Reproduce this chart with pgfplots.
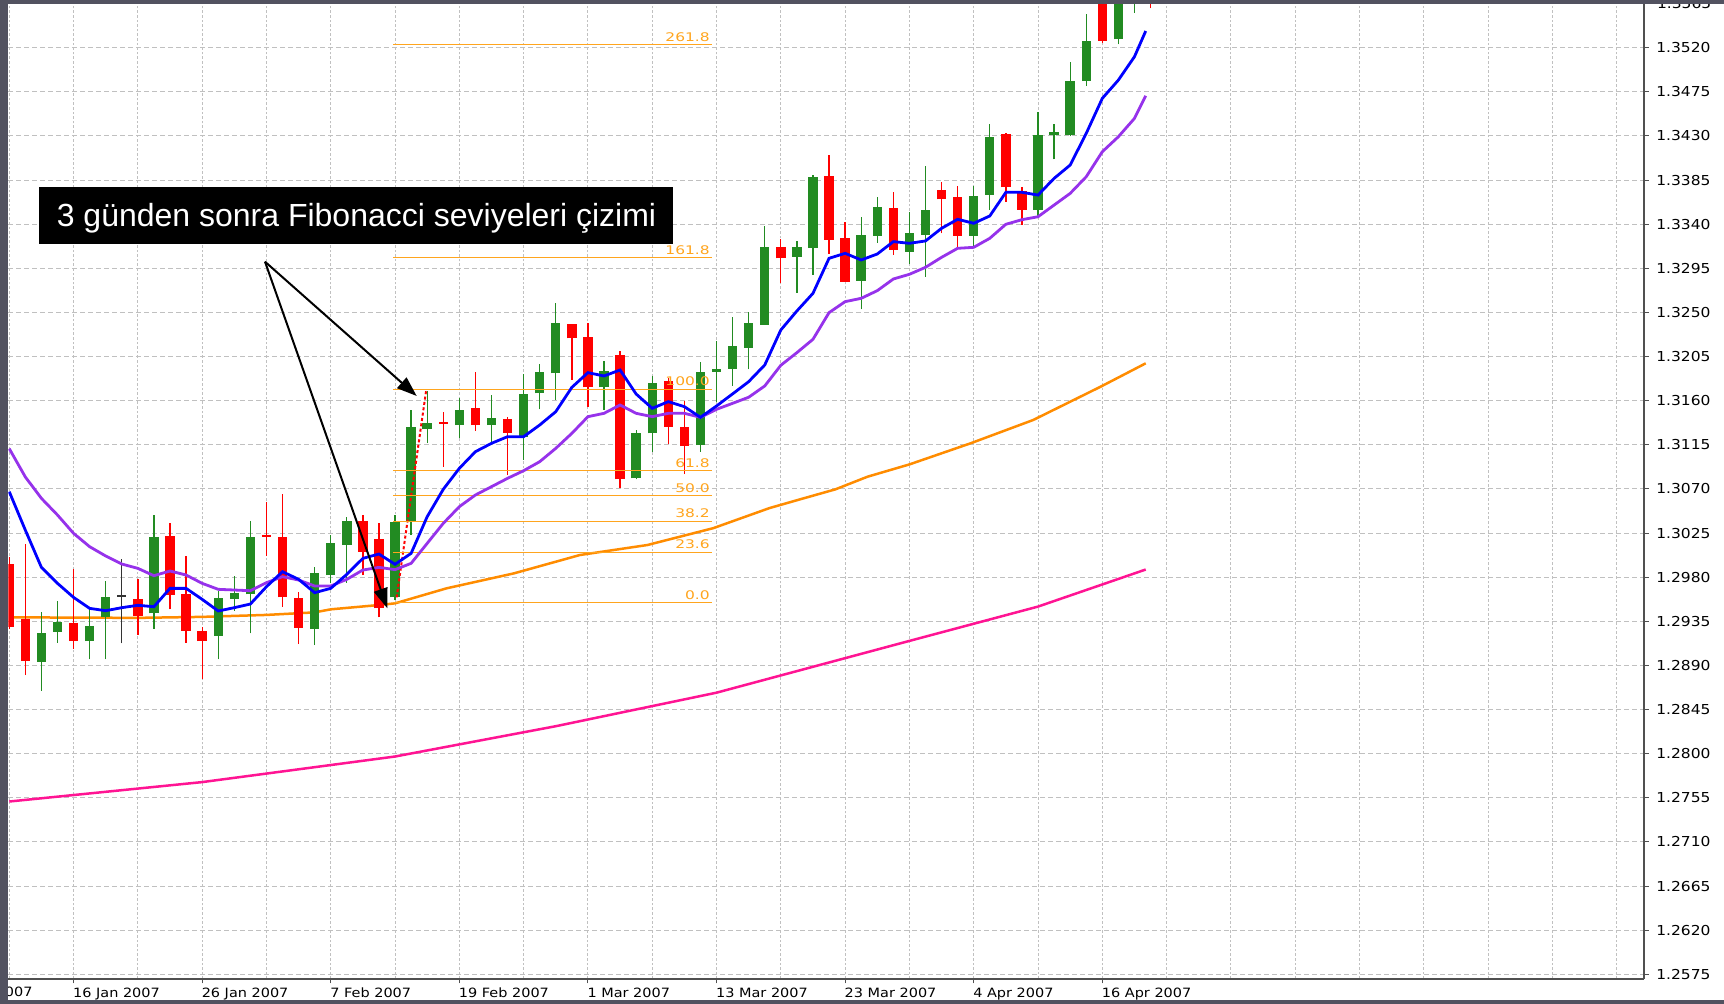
\documentclass[border=0pt]{standalone}
\usepackage{fontspec}
\setmainfont{Liberation Sans}
\newfontfamily\dvs[FakeStretch=1.13]{DejaVu Sans}
\newfontfamily\dvf[FakeStretch=1.3]{DejaVu Sans}
\usepackage{pgfplots}
\usepackage{pgfplotstable}
\pgfplotsset{compat=1.18}
\usetikzlibrary{arrows.meta}

\definecolor{cgreen}{RGB}{34,139,34}
\definecolor{cred}{RGB}{255,0,0}
\definecolor{cblue}{RGB}{0,0,255}
\definecolor{cpurple}{RGB}{150,50,235}
\definecolor{corange}{RGB}{255,140,0}
\definecolor{cfib}{RGB}{255,165,30}
\definecolor{cpink}{RGB}{255,20,147}
\definecolor{cgrid}{RGB}{192,192,192}
\definecolor{cband}{RGB}{82,82,96}
\definecolor{caxis}{RGB}{80,80,80}

% bullish candles: index open high low close
\pgfplotstableread{
i O H L C
2 1.28935 1.29441 1.28642 1.29227
3 1.29244 1.29560 1.29132 1.29346
5 1.29149 1.29482 1.28962 1.29302
6 1.29397 1.29764 1.28962 1.29601
9 1.29431 1.30434 1.29275 1.30206
13 1.29203 1.29659 1.28962 1.29584
14 1.29577 1.29812 1.29458 1.29642
15 1.29625 1.30376 1.29227 1.30213
19 1.29271 1.29907 1.29108 1.29839
20 1.29822 1.30230 1.29737 1.30152
21 1.30128 1.30417 1.29744 1.30376
24 1.29594 1.30434 1.29570 1.30366
25 1.30366 1.31505 1.30230 1.31335
26 1.31308 1.31702 1.31172 1.31369
28 1.31352 1.31624 1.31216 1.31505
30 1.31352 1.31658 1.31165 1.31427
32 1.31233 1.31872 1.30995 1.31665
33 1.31675 1.31974 1.31512 1.31896
34 1.31879 1.32593 1.31607 1.32389
37 1.31736 1.32008 1.31505 1.31906
39 1.30808 1.31300 1.30798 1.31274
40 1.31267 1.31852 1.31080 1.31784
43 1.31148 1.31998 1.31080 1.31896
44 1.31896 1.32212 1.31590 1.31920
45 1.31927 1.32457 1.31750 1.32161
46 1.32141 1.32508 1.31920 1.32389
47 1.32372 1.33382 1.32372 1.33164
49 1.33069 1.33232 1.32702 1.33164
50 1.33161 1.33902 1.32882 1.33878
53 1.32824 1.33477 1.32532 1.33290
54 1.33280 1.33681 1.33212 1.33579
56 1.33120 1.33528 1.32994 1.33314
57 1.33290 1.33997 1.32865 1.33545
60 1.33280 1.33793 1.33171 1.33688
61 1.33698 1.34419 1.33545 1.34293
64 1.33544 1.34547 1.33459 1.34309
65 1.34309 1.34418 1.34061 1.34343
66 1.34309 1.35057 1.34299 1.34860
67 1.34860 1.35543 1.34809 1.35271
69 1.35285 1.36100 1.35234 1.35900
70 1.35700 1.36100 1.35557 1.36000
}\greentab

% bearish candles: index open high low close
\pgfplotstableread{
i O H L C
0 1.29934 1.30002 1.29270 1.29295
1 1.29370 1.30138 1.28802 1.28945
4 1.29329 1.29880 1.29067 1.29149
8 1.29574 1.29778 1.29210 1.29404
10 1.30220 1.30356 1.29472 1.29618
11 1.29628 1.30016 1.29132 1.29254
12 1.29251 1.29295 1.28758 1.29149
16 1.30233 1.30567 1.30016 1.30213
17 1.30213 1.30645 1.29499 1.29594
18 1.29584 1.29652 1.29118 1.29285
22 1.30376 1.30434 1.29822 1.30060
23 1.30190 1.30356 1.29390 1.29482
27 1.31386 1.31480 1.30927 1.31366
29 1.31522 1.31896 1.31294 1.31352
31 1.31413 1.31430 1.30842 1.31274
35 1.32379 1.32382 1.31811 1.32236
36 1.32253 1.32389 1.31540 1.31736
38 1.32066 1.32107 1.30706 1.30798
41 1.31801 1.31828 1.31158 1.31335
42 1.31335 1.31600 1.30852 1.31138
48 1.33164 1.33246 1.32797 1.33052
51 1.33892 1.34106 1.33096 1.33239
52 1.33263 1.33419 1.32814 1.32814
55 1.33569 1.33732 1.33086 1.33137
58 1.33749 1.33834 1.33307 1.33654
59 1.33674 1.33793 1.33164 1.33280
62 1.34320 1.34327 1.33630 1.33776
63 1.33740 1.33783 1.33392 1.33545
68 1.36000 1.36100 1.35244 1.35271
71 1.36000 1.36100 1.35600 1.35800
}\redtab

% unchanged candle
\pgfplotstableread{
i O H L C
7 1.29601 1.29989 1.29125 1.29621
}\dojitab

\pgfplotsset{
  wick/.style={draw=none, no markers, forget plot, error bars/.cd, y dir=plus, y explicit, error mark=none, error bar style={draw=#1, line width=0.65pt}},
  body/.style={draw=none, no markers, forget plot, error bars/.cd, y dir=plus, y explicit, error mark=none, error bar style={draw=#1, line width=4.7pt}},
}

\begin{document}
\begin{tikzpicture}[x=0.5pt,y=0.5pt]
\useasboundingbox (0,0) rectangle (1724,1004);
\fill[white] (0,0) rectangle (1724,1004);
\begin{axis}[
  at={(4.15pt,12.5pt)}, anchor=south west,
  scale only axis, width=817.85pt, height=487.35pt,
  xmin=-0.06, xmax=101.7, ymin=1.25702, ymax=1.35643,
  axis x line*=bottom, axis y line*=right,
  axis line style={-, draw=caxis, line width=1pt},
  xtick={4,12,20,28,36,44,52,60,68},
  xticklabels={16 Jan 2007,26 Jan 2007,7 Feb 2007,19 Feb 2007,1 Mar 2007,13 Mar 2007,23 Mar 2007,4 Apr 2007,16 Apr 2007},
  minor xtick={0,4,...,100},
  ytick={1.2575,1.2620,1.2665,1.2710,1.2755,1.2800,1.2845,1.2890,1.2935,1.2980,1.3025,1.3070,1.3115,1.3160,1.3205,1.3250,1.3295,1.3340,1.3385,1.3430,1.3475,1.3520},
  yticklabels={1.2575,1.2620,1.2665,1.2710,1.2755,1.2800,1.2845,1.2890,1.2935,1.2980,1.3025,1.3070,1.3115,1.3160,1.3205,1.3250,1.3295,1.3340,1.3385,1.3430,1.3475,1.3520},
  grid=both,
  major x grid style={cgrid, line width=0.5pt, dash pattern=on 1.3pt off 1pt},
  minor x grid style={cgrid, line width=0.5pt, dash pattern=on 1.3pt off 1pt},
  major y grid style={cgrid, line width=0.5pt, dash pattern=on 2.5pt off 1.5pt},
  tick align=outside,
  major tick length=2.25pt, minor tick length=0pt,
  every tick/.style={caxis, line width=0.5pt},
  xticklabel style={font=\dvs\fontsize{6.4}{7}\selectfont, anchor=base west, inner sep=0pt, yshift=-7.0pt, xshift=-0.4pt},
  yticklabel style={font=\dvs\fontsize{6.85}{8}\selectfont, anchor=west, inner sep=0pt, xshift=3.7pt},
]
% slow moving averages
\addplot[cpink, line width=1.25pt] coordinates {(0,1.27512) (12,1.27710) (24,1.27971) (34,1.28280) (44,1.28622) (56,1.29150) (64,1.29500) (70.7,1.29878)};
\addplot[corange, line width=1.25pt] coordinates {(0,1.29390) (4,1.29388) (8,1.29385) (12,1.29395) (16,1.29415) (19,1.29441) (20,1.29472) (23,1.29516) (24,1.29533) (27.2,1.29686) (31.4,1.29839) (35.5,1.30026) (39.7,1.30128) (43.8,1.30300) (47.3,1.30505) (49.2,1.30594) (51.4,1.30696) (53.4,1.30825) (56,1.30950) (59.8,1.31165) (63.7,1.31403) (67.9,1.31743) (70.7,1.31981)};
% candles: wicks
\addplot[wick=cgreen] table[x=i, y=L, y error expr=\thisrow{H}-\thisrow{L}] {\greentab};
\addplot[wick=cred] table[x=i, y=L, y error expr=\thisrow{H}-\thisrow{L}] {\redtab};
\addplot[wick=black!80] table[x=i, y=L, y error expr=\thisrow{H}-\thisrow{L}] {\dojitab};
% candles: bodies
\addplot[body=cgreen] table[x=i, y=O, y error expr=\thisrow{C}-\thisrow{O}] {\greentab};
\addplot[body=cred] table[x=i, y=C, y error expr=\thisrow{O}-\thisrow{C}] {\redtab};
\addplot[body=black!80] table[x=i, y=O, y error expr=\thisrow{C}-\thisrow{O}] {\dojitab};
% 3-day marker
\addplot[cred, line width=1pt, dash pattern=on 1.5pt off 1.2pt] coordinates {(24.1,1.29594) (25.94,1.31709)};
% Fibonacci levels
\addplot[cfib, line width=0.5pt] coordinates {(23.9,1.29541) (43.7,1.29541)};
\addplot[cfib, line width=0.5pt] coordinates {(23.9,1.30054) (43.7,1.30054)};
\addplot[cfib, line width=0.5pt] coordinates {(23.9,1.30371) (43.7,1.30371)};
\addplot[cfib, line width=0.5pt] coordinates {(23.9,1.30628) (43.7,1.30628)};
\addplot[cfib, line width=0.5pt] coordinates {(23.9,1.30884) (43.7,1.30884)};
\addplot[cfib, line width=0.5pt] coordinates {(23.9,1.31714) (43.7,1.31714)};
\addplot[cfib, line width=0.5pt] coordinates {(23.9,1.33057) (43.7,1.33057)};
\addplot[cfib, line width=0.5pt] coordinates {(23.9,1.35230) (43.7,1.35230)};
\begin{scope}[every node/.style={anchor=south east, inner sep=0pt, yshift=1.5pt, text=cfib, font=\dvf\fontsize{5.95}{7}\selectfont}]
\node at (axis cs:43.6,1.29541) {0.0};
\node at (axis cs:43.6,1.30054) {23.6};
\node at (axis cs:43.6,1.30371) {38.2};
\node at (axis cs:43.6,1.30628) {50.0};
\node at (axis cs:43.6,1.30884) {61.8};
\node at (axis cs:43.6,1.31714) {100.0};
\node at (axis cs:43.6,1.33057) {161.8};
\node at (axis cs:43.6,1.35230) {261.8};
\end{scope}
% fast moving averages
\addplot[cpurple, line width=1.4pt] coordinates {(0,1.31111) (1,1.30822) (2,1.30604) (3,1.30434) (4,1.30247) (5,1.30111) (6,1.30016) (7,1.29934) (8,1.29890) (9,1.29815) (10,1.29863) (11,1.29822) (12,1.29737) (13,1.29676) (14,1.29669) (15,1.29662) (16,1.29744) (17,1.29805) (18,1.29771) (19,1.29710) (20,1.29710) (21,1.29778) (22,1.29873) (23,1.29900) (24,1.29877) (25,1.29941) (26,1.30145) (27,1.30349) (28,1.30519) (29,1.30638) (30,1.30723) (31,1.30808) (32,1.30886) (33,1.30978) (34,1.31114) (35,1.31267) (36,1.31437) (37,1.31471) (38,1.31556) (39,1.31471) (40,1.31437) (41,1.31471) (42,1.31471) (43,1.31430) (44,1.31512) (45,1.31573) (46,1.31635) (47,1.31750) (48,1.31961) (49,1.32090) (50,1.32226) (51,1.32498) (52,1.32610) (53,1.32644) (54,1.32722) (55,1.32841) (56,1.32889) (57,1.32960) (58,1.33062) (59,1.33154) (60,1.33164) (61,1.33256) (62,1.33399) (63,1.33446) (64,1.33476) (65,1.33595) (66,1.33714) (67,1.33884) (68,1.34139) (69,1.34292) (70,1.34479) (70.7,1.34710)};
\addplot[cblue, line width=1.4pt] coordinates {(0,1.30672) (1,1.30280) (2,1.29900) (3,1.29737) (4,1.29594) (5,1.29482) (6,1.29458) (7,1.29489) (8,1.29513) (9,1.29499) (10,1.29686) (11,1.29686) (12,1.29574) (13,1.29455) (14,1.29489) (15,1.29526) (16,1.29703) (17,1.29856) (18,1.29778) (19,1.29642) (20,1.29686) (21,1.29829) (22,1.29992) (23,1.30036) (24,1.29931) (25,1.30043) (26,1.30417) (27,1.30696) (28,1.30910) (29,1.31080) (30,1.31165) (31,1.31233) (32,1.31233) (33,1.31352) (34,1.31488) (35,1.31736) (36,1.31886) (37,1.31852) (38,1.31913) (39,1.31668) (40,1.31522) (41,1.31590) (42,1.31539) (43,1.31430) (44,1.31546) (45,1.31669) (46,1.31794) (47,1.31964) (48,1.32321) (49,1.32515) (50,1.32695) (51,1.33052) (52,1.33103) (53,1.33035) (54,1.33096) (55,1.33222) (56,1.33205) (57,1.33229) (58,1.33358) (59,1.33450) (60,1.33409) (61,1.33484) (62,1.33725) (63,1.33725) (64,1.33697) (65,1.33867) (66,1.34003) (67,1.34326) (68,1.34683) (69,1.34870) (70,1.35108) (70.7,1.35370)};
\end{axis}
% annotation
\fill[black] (38.5,760) rectangle (673,817);
\node[text=white, inner sep=0pt, font=\fontsize{16}{19}\selectfont] at (356.5,785.5) {3 günden sonra Fibonacci seviyeleri çizimi};
\draw[black, line width=1pt, -{Triangle[length=10pt, width=7pt]}] (265,742.3) -- (416.7,608);
\draw[black, line width=1pt, -{Triangle[length=10pt, width=7pt]}] (265,742.3) -- (387.3,395.7);
% partly hidden labels
\node[anchor=base east, inner sep=0pt, font=\dvs\fontsize{6.4}{7}\selectfont] at (33,7.3) {4 Jan 2007};
\node[anchor=west, inner sep=0pt, font=\dvs\fontsize{6.85}{8}\selectfont] at (1656.7,1000.4) {1.3565};
% window frame
\fill[cband] (0,0) rectangle (8.3,1004);
\fill[cband] (0,999.7) rectangle (1724,1004);
\fill[cband] (0,0) rectangle (1724,4.3);
\end{tikzpicture}
\end{document}
